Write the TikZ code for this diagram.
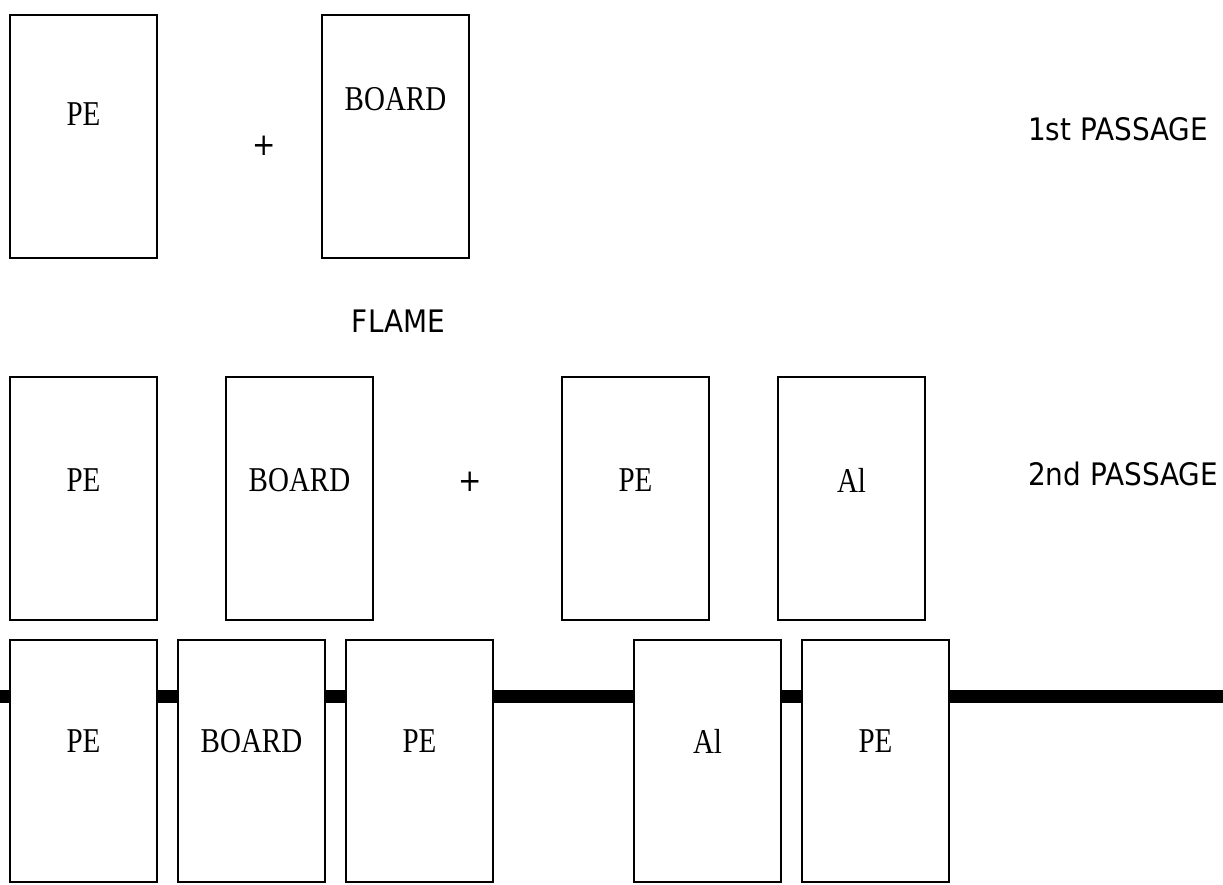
\documentclass[tikz,border=0pt]{standalone}
\usepackage{fontspec}
\setmainfont{Liberation Serif}
\newfontfamily\sansf{DejaVu Sans}[FakeStretch=0.9]
\begin{document}
\begin{tikzpicture}[x=1pt,y=-1pt,
  box/.style={draw,line width=2.2pt,fill=white,rectangle,inner sep=0pt,minimum width=147pt,minimum height=243pt},
  lbl/.style={inner sep=0pt,font=\fontsize{29}{29}\selectfont},
  stxt/.style={inner sep=0pt,font=\sansf\fontsize{31}{31}\selectfont},
  band/.style={line width=13pt}]
\useasboundingbox[fill=white] (0,0) rectangle (1223,884);
% band
\coordinate (bl) at (0,696.5);
\coordinate (br) at (1223,696.5);
\draw[band] (bl) -- (br);
% row 1
\node[box] (r1a) at (83.5,136.5) {};
\node[box] (r1b) at (395.5,136.5) {};
\node[lbl] (t1a) at (83.5,114) {\scalebox{1}[1.2]{PE}};
\node[lbl] (t1b) at (395.5,99) {\scalebox{1}[1.2]{BOARD}};
\node[stxt] (p1) at (264,146) {+};
\node[stxt,anchor=west] (pass1) at (1028,129) {1st PASSAGE};
\node[stxt] (flame) at (398.5,321.5) {FLAME};
% row 2
\node[box] (r2a) at (83.5,498.5) {};
\node[box] (r2b) at (299.5,498.5) {};
\node[box] (r2c) at (635.5,498.5) {};
\node[box] (r2d) at (851.5,498.5) {};
\node[lbl] (t2a) at (83.5,480) {\scalebox{1}[1.2]{PE}};
\node[lbl] (t2b) at (299.5,480) {\scalebox{1}[1.2]{BOARD}};
\node[lbl] (t2c) at (635.5,480) {\scalebox{1}[1.2]{PE}};
\node[lbl] (t2d) at (851.5,480) {\scalebox{1}[1.2]{Al}};
\node[stxt] (p2) at (470,482) {+};
\node[stxt,anchor=west] (pass2) at (1028,474) {2nd PASSAGE};
% row 3
\node[box,minimum height=242pt] (r3a) at (83.5,761) {};
\node[box,minimum height=242pt] (r3b) at (251.5,761) {};
\node[box,minimum height=242pt] (r3c) at (419.5,761) {};
\node[box,minimum height=242pt] (r3d) at (707.5,761) {};
\node[box,minimum height=242pt] (r3e) at (875.5,761) {};
\node[lbl] (t3a) at (83.5,741) {\scalebox{1}[1.2]{PE}};
\node[lbl] (t3b) at (251.5,741) {\scalebox{1}[1.2]{BOARD}};
\node[lbl] (t3c) at (419.5,741) {\scalebox{1}[1.2]{PE}};
\node[lbl] (t3d) at (707.5,741) {\scalebox{1}[1.2]{Al}};
\node[lbl] (t3e) at (875.5,741) {\scalebox{1}[1.2]{PE}};
\end{tikzpicture}
\end{document}
